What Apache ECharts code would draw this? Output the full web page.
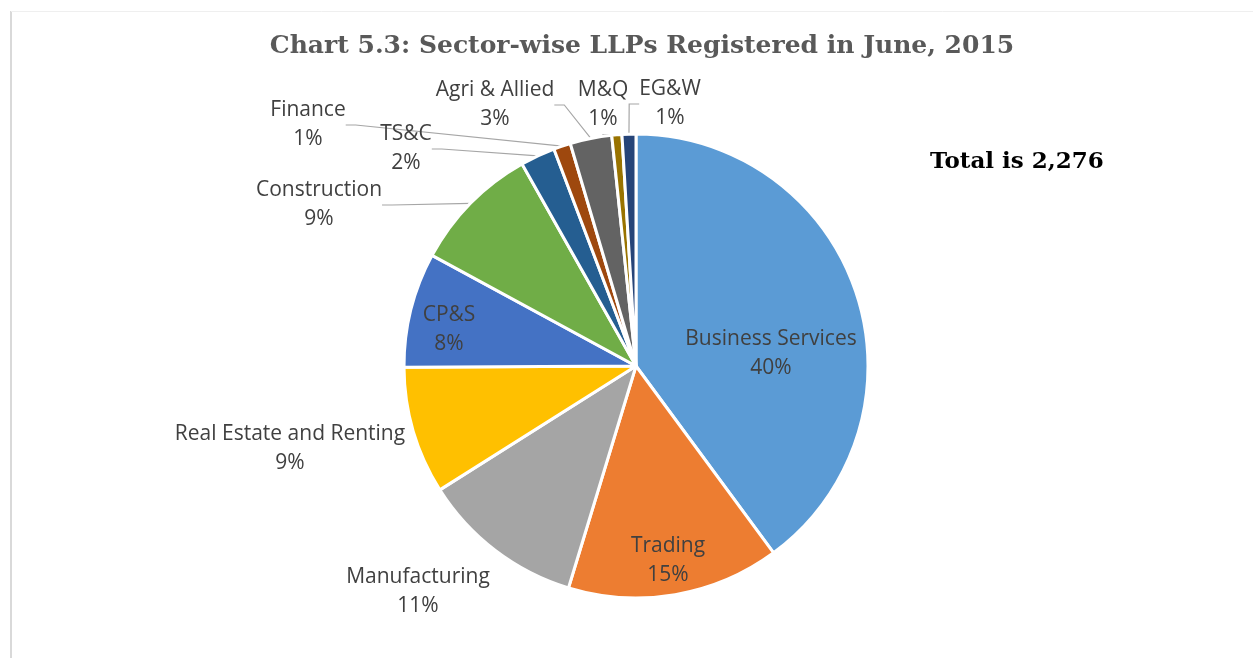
<!DOCTYPE html>
<html>
<head>
<meta charset="utf-8">
<script src="https://cdn.jsdelivr.net/npm/echarts@6/dist/echarts.min.js"></script>
<style>
  html, body { margin: 0; padding: 0; background: #fff; }
  #main { width: 1253px; height: 658px; }
</style>
</head>
<body>
<div id="main"></div>
<script>
var sectors = ['Business Services', 'Trading', 'Manufacturing', 'Real Estate and Renting', 'CP&S',
  'Construction', 'TS&C', 'Finance', 'Agri & Allied', 'M&Q', 'EG&W'];
var llps = [908, 337, 258, 202, 182, 203, 55, 27, 66, 16, 22];
var colors = ['#5B9BD5', '#ED7D31', '#A5A5A5', '#FFC000', '#4472C4',
  '#70AD47', '#255E91', '#9E480E', '#636363', '#997300', '#264478'];

// where Excel put each label (centre of the two text lines)
var labelPos = [[771, 354], [668, 561], [418, 592], [290, 449], [449, 330],
  [319, 205], [406, 149], [308, 125], [495, 105], [603, 105], [670, 104]];
var hasLine = [false, false, false, false, false, true, true, true, true, true, true];

var total = llps.reduce(function (a, b) { return a + b; }, 0);

var data = sectors.map(function (name, i) {
  return {
    name: name,
    value: llps[i],
    itemStyle: { color: colors[i] },
    labelLine: { show: hasLine[i] }
  };
});

var chart = echarts.init(document.getElementById('main'));
chart.setOption({
  animation: false,
  title: {
    text: 'Chart 5.3: Sector-wise LLPs Registered in June, 2015',
    left: 637,
    top: 29,
    textAlign: 'center',
    textStyle: {
      fontFamily: 'DejaVu Serif',
      fontWeight: 'bold',
      fontSize: 25,
      color: '#595959'
    }
  },
  graphic: [
    { type: 'line', shape: { x1: 11, y1: 11, x2: 11, y2: 658 }, style: { stroke: '#d9d9d9', lineWidth: 2 } },
    { type: 'line', shape: { x1: 11, y1: 11.5, x2: 1253, y2: 11.5 }, style: { stroke: '#efefef', lineWidth: 1 } },
    {
      type: 'text', left: 930, top: 151,
      style: {
        text: 'Total is ' + total.toLocaleString('en-US'),
        font: 'bold 23px "DejaVu Serif"',
        fill: '#000'
      }
    }
  ],
  series: [{
    type: 'pie',
    center: [636, 366],
    radius: [0, 232],
    startAngle: 90,
    clockwise: true,
    avoidLabelOverlap: false,
    data: data,
    itemStyle: { borderColor: '#fff', borderWidth: 3 },
    label: {
      show: true,
      fontFamily: 'Open Sans',
      fontSize: 21,
      lineHeight: 29,
      color: '#404040',
      align: 'center',
      formatter: function (p) {
        return p.name + '\n' + Math.round(p.value / total * 100) + '%';
      }
    },
    labelLine: {
      show: true,
      length: 10,
      length2: 10,
      lineStyle: { color: '#a6a6a6', width: 1.2 }
    },
    labelLayout: function (p) {
      var pos = labelPos[p.dataIndex];
      return { x: pos[0], y: pos[1], align: 'center', verticalAlign: 'middle' };
    }
  }]
});
</script>
</body>
</html>
